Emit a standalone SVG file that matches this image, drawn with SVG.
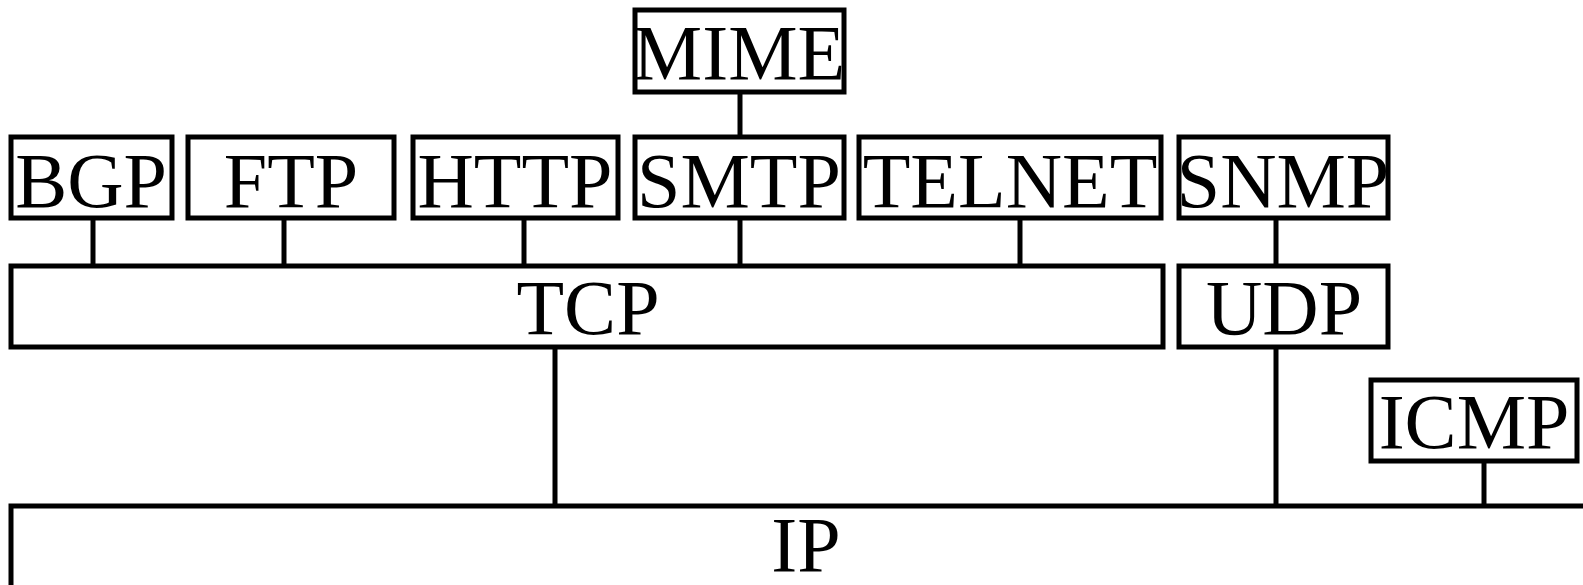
<svg xmlns="http://www.w3.org/2000/svg" width="1583" height="585" viewBox="0 0 1583 585">
<style>
.box{fill:#fff;stroke:#000;stroke-width:5}
.lbl{font-family:"Liberation Serif","Times New Roman",serif;font-size:78px;fill:#000;text-anchor:middle}
.con line{stroke:#000;stroke-width:5}
</style>
<rect width="1583" height="585" fill="#fff"/>
<g id="connectors" class="con">
<line x1="740" y1="92" x2="740" y2="137"/>
<line x1="93" y1="218" x2="93" y2="266"/>
<line x1="284" y1="218" x2="284" y2="266"/>
<line x1="524" y1="218" x2="524" y2="266"/>
<line x1="740" y1="218" x2="740" y2="266"/>
<line x1="1020" y1="218" x2="1020" y2="266"/>
<line x1="1276" y1="218" x2="1276" y2="266"/>
<line x1="555" y1="347" x2="555" y2="506"/>
<line x1="1276" y1="347" x2="1276" y2="506"/>
<line x1="1484" y1="461" x2="1484" y2="506"/>
</g>
<g id="mime"><rect class="box" x="635" y="10" width="209" height="82"/><text class="lbl" x="739" y="79">MIME</text></g>
<g id="bgp"><rect class="box" x="11" y="137" width="161" height="81"/><text class="lbl" x="91" y="207">BGP</text></g>
<g id="ftp"><rect class="box" x="188" y="137" width="206" height="81"/><text class="lbl" x="291" y="207">FTP</text></g>
<g id="http"><rect class="box" x="413" y="137" width="205" height="81"/><text class="lbl" x="515" y="207">HTTP</text></g>
<g id="smtp"><rect class="box" x="635" y="137" width="209" height="81"/><text class="lbl" x="739" y="207">SMTP</text></g>
<g id="telnet"><rect class="box" x="859" y="137" width="302" height="81"/><text class="lbl" x="1010" y="207">TELNET</text></g>
<g id="snmp"><rect class="box" x="1179" y="137" width="209" height="81"/><text class="lbl" x="1283" y="207">SNMP</text></g>
<g id="tcp"><rect class="box" x="11" y="266" width="1152" height="81"/><text class="lbl" x="588" y="334">TCP</text></g>
<g id="udp"><rect class="box" x="1179" y="266" width="209" height="81"/><text class="lbl" x="1284" y="334">UDP</text></g>
<g id="icmp"><rect class="box" x="1371" y="380" width="206" height="81"/><text class="lbl" x="1474" y="448">ICMP</text></g>
<g id="ip"><rect class="box" x="11" y="506" width="1600" height="100"/><text class="lbl" x="806" y="571">IP</text></g>
</svg>
